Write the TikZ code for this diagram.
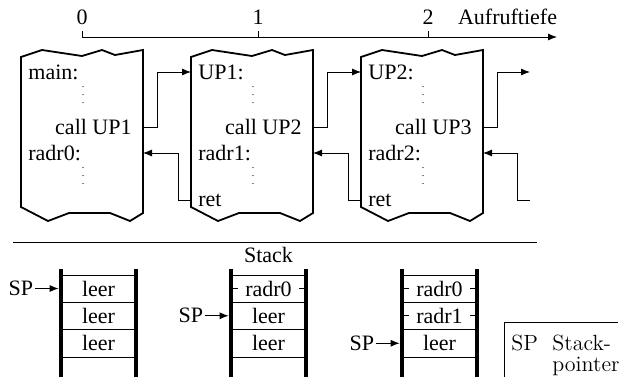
\documentclass[tikz,border=0pt]{standalone}
\usepackage{fontspec}
\setmainfont{Liberation Serif}
\usetikzlibrary{positioning,arrows.meta}

\begin{document}
\begin{tikzpicture}[x=0.5pt,y=-0.5pt,
	font=\fontsize{11}{13}\selectfont,
	>={Latex[length=4.5pt,width=3.5pt]},
	progbox/.style={line width=0.9pt, line join=miter},
	lab/.style={anchor=west, inner xsep=3.5pt, inner ysep=1pt},
	cal/.style={anchor=east, inner xsep=5.5pt, inner ysep=1pt},
	dots/.style={font=\tiny, inner sep=0pt},
	cell/.style={minimum width=37.5pt, minimum height=13.5pt, inner sep=0pt},
	full/.style={fill=white, inner xsep=3.5pt, inner ysep=1pt},
	spnode/.style={inner xsep=0.5pt, inner ysep=1pt},
	bar/.style={line width=2pt},
	]
	\clip (0,0) rectangle (627,376);

	% Aufruftiefe
	\draw[->] (82,37) -- (557,37);
	\foreach \x/\t in {82/0,258/1,428/2}{
		\draw (\x,31) -- (\x,37);
		\node (t\t) at (\x,17) {\t};
	}
	\node (tiefe) [anchor=west] at (451,17) {Aufruftiefe};

	% Programmbloecke
	\foreach \x in {21,191,361}
	\draw[progbox] (\x,57) -- (\x+21,50) -- (\x+61,56) -- (\x+81,50)
	-- (\x+94,55) -- (\x+122,50) -- (\x+122,213) -- (\x+109,221)
	-- (\x+89,213) -- (\x+48,213) -- (\x+27,221) -- (\x,207) -- cycle;

	\node[lab] (main) at (21,72) {main:};
	\node[dots] (d01) at (83,89.5) {\vdots};
	\node[cal] (call1) at (143,127) {call UP1};
	\node[lab] (radr0) at (21,153) {radr0:};
	\node[dots] (d02) at (83,170.5) {\vdots};

	\node[lab] (up1) at (191,72) {UP1:};
	\node[dots] (d11) at (253,89.5) {\vdots};
	\node[cal] (call2) at (313,127) {call UP2};
	\node[lab] (radr1) at (191,153) {radr1:};
	\node[dots] (d12) at (253,170.5) {\vdots};
	\node[lab] (ret1) at (191,200) {ret};

	\node[lab] (up2) at (361,72) {UP2:};
	\node[dots] (d21) at (423,89.5) {\vdots};
	\node[cal] (call3) at (483,127) {call UP3};
	\node[lab] (radr2) at (361,153) {radr2:};
	\node[dots] (d22) at (423,170.5) {\vdots};
	\node[lab] (ret2) at (361,200) {ret};

	\coordinate (out) at (530,72);
	\coordinate (in) at (530,200);

	\draw[->] (call1.east) -- ++(14,0) |- (up1.west);
	\draw[->] (call2.east) -- ++(14,0) |- (up2.west);
	\draw[->] (call3.east) -- ++(14,0) |- (out);
	\draw[->] (ret1.west) -- ++(-13,0) |- (radr0 -| call1.east);
	\draw[->] (ret2.west) -- ++(-13,0) |- (radr1 -| call2.east);
	\draw[->] (in) -- ++(-13,0) |- (radr2 -| call3.east);

	\draw (13,242) -- (537,242);
	\node (stack) at (268.5,255) {Stack};

	% Stacks
	\foreach \x in {61,231,402}{
		\draw[bar] (\x,269) -- (\x,380);
		\draw[bar] (\x+75,269) -- (\x+75,380);
		\foreach \y in {275,302,329.5,357}
		\draw (\x,\y) -- (\x+75,\y);
	}
	\draw (231,288.5) -- (306,288.5);
	\draw (402,288.5) -- (477,288.5);
	\draw (402,315.75) -- (477,315.75);

	\node[cell] (c11) at (98.5,288.5) {leer};
	\node[cell] (c12) at (98.5,315.75) {leer};
	\node[cell] (c13) at (98.5,343.25) {leer};

	\node[cell] (c21) at (268.5,288.5) {};
	\node[full] at (c21) {radr0};
	\node[cell] (c22) at (268.5,315.75) {leer};
	\node[cell] (c23) at (268.5,343.25) {leer};

	\node[cell] (c31) at (439.5,288.5) {};
	\node[full] at (c31) {radr0};
	\node[cell] (c32) at (439.5,315.75) {};
	\node[full] at (c32) {radr1};
	\node[cell] (c33) at (439.5,343.25) {leer};

	\node[spnode] (sp1) [left=13pt of c11.west, anchor=east] {SP};
	\node[spnode] (sp2) [left=13pt of c22.west, anchor=east] {SP};
	\node[spnode] (sp3) [left=13pt of c33.west, anchor=east] {SP};
	\draw[->, shorten >=1pt] (sp1) -- (c11.west);
	\draw[->, shorten >=1pt] (sp2) -- (c22.west);
	\draw[->, shorten >=1pt] (sp3) -- (c33.west);

	% Legende
	\draw (618,322) -- (504,322) -- (504,380);
	\begin{scope}[font=\fontfamily{lmr}\fontsize{11}{13}\selectfont]
		\node[anchor=base west, inner sep=0pt] (lsp) at (511,350) {SP};
		\node[anchor=base west, inner sep=0pt] (lst) at (552,350) {Stack-};
		\node[anchor=base west, inner sep=0pt] (lpt) at (552,371) {pointer};
	\end{scope}
\end{tikzpicture}
\end{document}
